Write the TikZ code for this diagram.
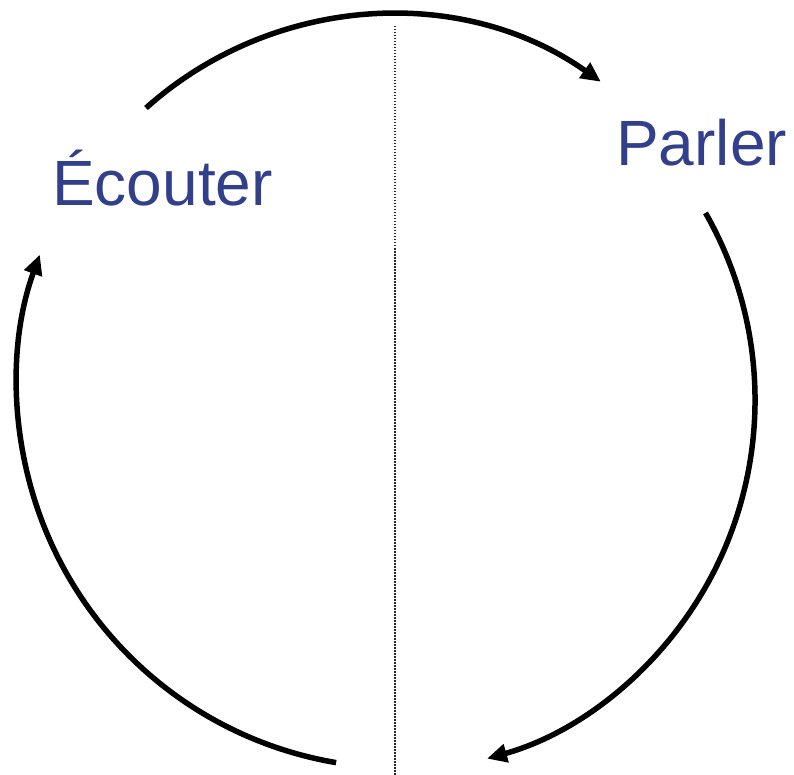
\documentclass[tikz,border=0pt]{standalone}
\usepackage{fontspec}
\setmainfont{Liberation Sans}
\usetikzlibrary{arrows.meta}
\definecolor{labelblue}{RGB}{50,64,140}
\tikzset{
  cycarrow/.style={line width=5.5pt, -{Triangle[length=20pt,width=18pt]}},
  label text/.style={text=labelblue, inner sep=0pt, anchor=base west,
    font=\fontsize{64}{72}\selectfont},
  divider/.style={line width=1.5pt, dash pattern=on 1.5pt off 1.5pt, black!85}
}
\begin{document}
\begin{tikzpicture}[x=1pt,y=-1pt]
\useasboundingbox (0,0) rectangle (794,775);
% labels
\node[label text] (ecouter) at (52,206) {Écouter};
\node[label text] (parler) at (616,166) {Parler};
% divider
\coordinate (divtop) at (395,26);
\coordinate (divbot) at (395,775);
\draw[divider] (divtop) -- (divbot);
% arc start points
\coordinate (topstart) at (146,108);
\coordinate (rightstart) at (705.5,212.9);
\coordinate (leftstart) at (336.1,762.6);
\draw[cycarrow] (topstart) arc[start angle=-131.8, end angle=-54.8, radius=366];
\draw[cycarrow] (rightstart) arc[start angle=-30.2, end angle=74.6, x radius=365, y radius=372];
\draw[cycarrow] (leftstart) arc[start angle=99.6, end angle=199.9, radius=383];
\end{tikzpicture}
\end{document}
